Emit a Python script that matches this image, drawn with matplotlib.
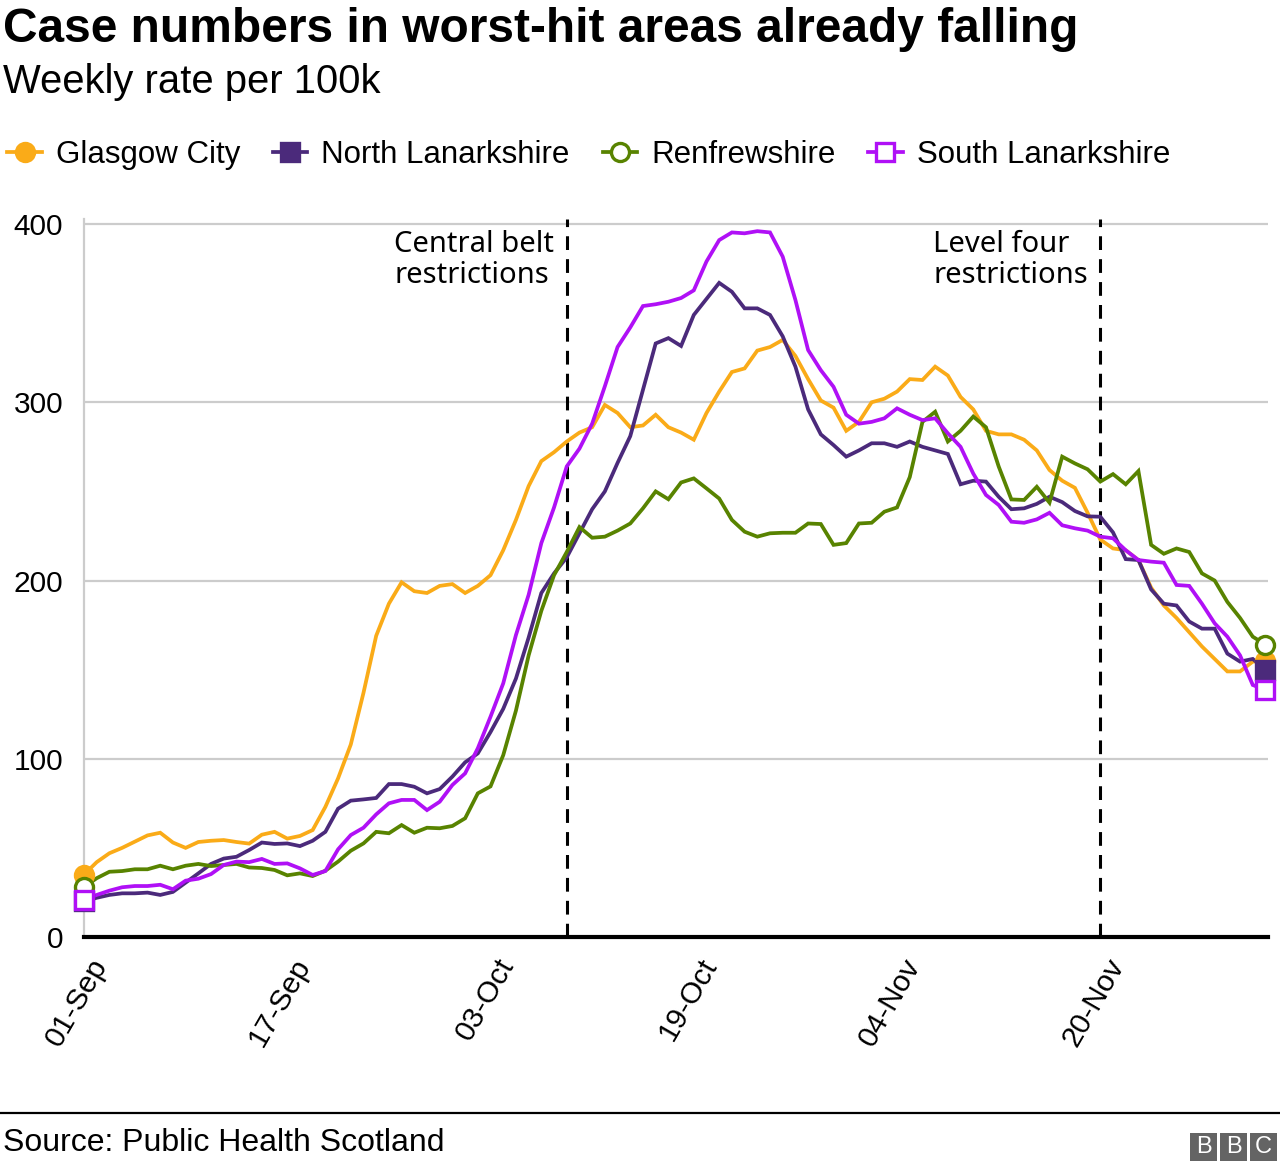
import numpy as np
import pandas as pd
import matplotlib
matplotlib.use("Agg")
import matplotlib.pyplot as plt
import matplotlib.dates as mdates
from matplotlib.patches import Rectangle
from matplotlib.lines import Line2D
from matplotlib.transforms import ScaledTranslation

# weekly rate per 100k, daily from 1 Sep to 3 Dec 2020
dates = pd.date_range("2020-09-01", "2020-12-03", freq="D")

glasgow = [35, 42, 47, 50, 53.5, 57, 58.5, 53, 50, 53.3,
           54, 54.4, 53.3, 52.4, 57.4, 59, 55.2, 56.7, 60, 73,
           89, 108, 137, 169, 187, 199, 194, 193, 197, 198,
           193, 197, 203, 217, 234, 253, 267, 272, 278, 283,
           286, 298.5, 294, 286, 287, 293, 286, 283, 279, 294,
           306, 317, 319, 329, 331, 335, 326, 313, 301, 297,
           284, 289, 300, 302, 306, 313, 312.5, 320, 315, 303,
           296, 284, 282, 282, 279, 273, 262, 256, 252, 238,
           223, 218, 217, 211.5, 196, 186, 179, 171, 163, 156,
           149, 149, 154.5, 155]

north_lanark = [20, 22, 23.6, 24.5, 24.5, 24.9, 23.6, 25.3, 30.5, 35.7,
                41, 44, 45, 48.8, 53, 52.2, 52.5, 51, 54, 59,
                72, 76.5, 77.2, 78, 85.8, 85.8, 84.3, 80.6, 83, 90,
                98, 103, 115, 128, 145, 168, 193, 204, 213, 226.5,
                240, 250, 266, 281, 307, 333, 336, 331.6, 349, 358,
                367, 362, 352.7, 352.7, 349, 337, 320, 296, 282, 276,
                269.5, 273, 277, 277, 275, 278, 275, 273, 271, 254,
                256, 255.5, 247, 240, 240.5, 243, 247, 244, 239, 236,
                235.8, 227, 212, 211.5, 195, 187, 186, 177, 173, 173,
                159, 154.5, 156, 150]

renfrew = [28, 33, 36.6, 37, 38, 38, 40, 38, 40, 41,
           39.8, 40.4, 41, 39, 38.7, 37.6, 34.6, 35.7, 34.2, 37.2,
           42.3, 48.4, 52.5, 59, 58.2, 62.8, 58.5, 61.3, 61, 62.3,
           66.6, 80.6, 84.5, 102, 127, 158, 183, 203, 216, 230,
           224, 224.6, 228, 232, 240.5, 250, 245.6, 255, 257.3, 251.7,
           246, 234, 227.4, 224.6, 226.5, 226.8, 226.8, 232, 231.7, 220,
           221, 232, 232.4, 238.6, 241, 258, 289, 294.7, 278, 284,
           292, 286, 264, 245.5, 245.2, 252.6, 243.7, 269.5, 265.7, 262.4,
           255.5, 259.7, 254, 261.4, 220, 215, 218, 216, 204, 200,
           188, 179, 168.5, 164]

south_lanark = [21, 23.6, 26, 27.9, 28.6, 28.6, 29.3, 26.8, 31.6, 32.7,
                35.3, 40.4, 42.3, 42, 43.8, 41, 41.3, 38.5, 34.8, 37,
                49.2, 57.2, 61.3, 68.8, 75, 76.9, 76.9, 71.2, 75.9, 85.3,
                91.8, 105.9, 123.6, 142.3, 169.4, 192, 221, 241, 264, 274,
                288, 309, 331, 342, 354, 355, 356.4, 358.5, 362.8, 379,
                391, 395.3, 394.8, 396, 395.3, 381.7, 357.4, 329.3, 318, 308.7,
                293, 288, 289, 291, 296.6, 293, 290, 291, 282.6, 275,
                260, 248, 242.4, 233, 232.4, 234.3, 238, 231, 229.3, 228,
                224.6, 223.7, 217, 211.5, 210.6, 210, 197.5, 197, 187, 176,
                168.5, 158, 141.4, 138.6]

series_names = ["Glasgow City", "North Lanarkshire", "Renfrewshire", "South Lanarkshire"]
tick_dates = ["2020-09-01", "2020-09-17", "2020-10-03", "2020-10-19", "2020-11-04", "2020-11-20"]
events = [("2020-10-09", "Central belt\nrestrictions"),
          ("2020-11-20", "Level four\nrestrictions")]

colors = ["#FAAB18", "#4B2A7B", "#588300", "#B010F6"]
markers = ["o", "s", "o", "s"]
face = ["#FAAB18", "#4B2A7B", "white", "white"]

SANS = ["Liberation Sans", "DejaVu Sans"]
plt.rcParams["font.family"] = SANS

fig = plt.figure(figsize=(12.8, 11.7), dpi=100)
ax = fig.add_axes([84 / 1280, 1 - 937 / 1170, 1184 / 1280, 718.3 / 1170])

x = mdates.date2num(dates)
handles = []
for vals, c, m, fc, name in zip([glasgow, north_lanark, renfrew, south_lanark],
                                colors, markers, face, series_names):
    ax.plot(x, vals, color=c, lw=2.7, solid_joinstyle="miter", zorder=3, clip_on=False)
    ax.plot(x[[0, -1]], np.array(vals)[[0, -1]], ls="none", marker=m, ms=13,
            mfc=fc, mec=c, mew=2.4, zorder=4, clip_on=False)
    handles.append(Line2D([], [], color=c, lw=2.7, marker=m, ms=13, mfc=fc, mec=c, mew=2.4))

ax.set_ylim(0, 403)
ax.set_xlim(x[0], x[0] + 93.2)
ax.set_yticks([0, 100, 200, 300, 400])
ax.yaxis.grid(True, color="#cccccc", lw=1.6)
ax.set_axisbelow(True)
ax.tick_params(axis="y", length=0, pad=15, labelsize=21.5)
ax.tick_params(axis="x", length=0, pad=12, labelsize=21.5)
for lbl in ax.get_yticklabels():
    lbl.set_horizontalalignment("right")

ax.set_xticks(mdates.date2num(pd.to_datetime(tick_dates)))
ax.set_xticklabels(pd.to_datetime(tick_dates).strftime("%d-%b"), rotation=60,
                   ha="right", va="center", rotation_mode="anchor")
offset = ScaledTranslation(17 / 100, -7 / 100, fig.dpi_scale_trans)
for lbl in ax.get_xticklabels():
    lbl.set_transform(lbl.get_transform() + offset)

for s in ["top", "right"]:
    ax.spines[s].set_visible(False)
ax.spines["left"].set_color("#cccccc")
ax.spines["left"].set_linewidth(1.6)
ax.spines["bottom"].set_color("black")
ax.spines["bottom"].set_linewidth(3)
ax.spines["bottom"].set_zorder(5)

for d, label in events:
    xd = mdates.date2num(pd.Timestamp(d))
    ax.axvline(xd, color="black", lw=2.2, ls=(0, (4.5, 3)), zorder=2)
    ax.annotate(label, xy=(xd, 400), xytext=(-9, -4), textcoords="offset points",
                ha="right", va="top", multialignment="left", fontsize=21,
                family=["Noto Sans", "DejaVu Sans"], linespacing=1.1)

fig.text(3 / 1280, 1 - 30 / 1170, "Case numbers in worst-hit areas already falling",
         fontsize=34.5, fontweight="bold", va="center", ha="left")
fig.text(3 / 1280, 1 - 82 / 1170, "Weekly rate per 100k", fontsize=28.8, va="center", ha="left")

fig.legend(handles, series_names, loc="center left", bbox_to_anchor=(-0.004, 1 - 155 / 1170),
           ncol=4, frameon=False, fontsize=22.5, handlelength=1.1, handletextpad=0.45,
           columnspacing=1.05, borderaxespad=0)

fig.add_artist(Line2D([0, 1], [1 - 1113 / 1170] * 2, color="black", lw=1.6,
                      transform=fig.transFigure))
fig.text(3 / 1280, 1 - 1143 / 1170, "Source: Public Health Scotland", fontsize=23,
         va="center", ha="left")
for i, letter in enumerate("BBC"):
    x0 = (1190 + i * 30) / 1280
    fig.add_artist(Rectangle((x0, 1 - 1161 / 1170), 27 / 1280, 28 / 1170,
                             transform=fig.transFigure, color="#646464", lw=0))
    fig.text(x0 + 13.5 / 1280, 1 - 1147 / 1170, letter, color="white", fontsize=17,
             ha="center", va="center")

fig.savefig("out.png", dpi=100)
